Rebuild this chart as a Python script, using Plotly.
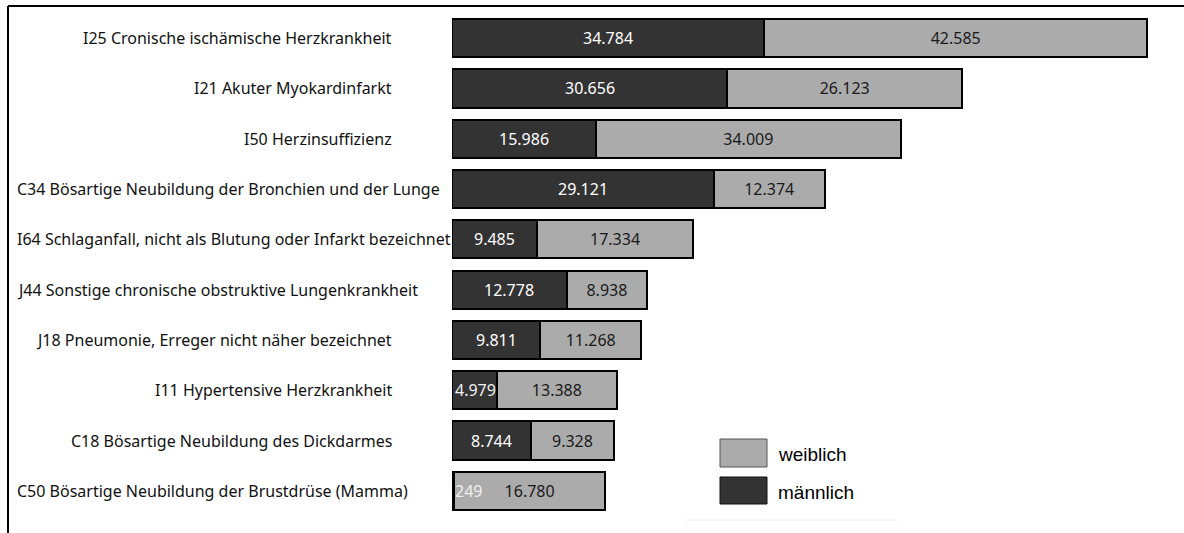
import plotly.graph_objects as go

categories = [
    "I25 Cronische ischämische Herzkrankheit",
    "I21 Akuter Myokardinfarkt",
    "I50 Herzinsuffizienz",
    "C34 Bösartige Neubildung der Bronchien und der Lunge",
    "I64 Schlaganfall, nicht als Blutung oder Infarkt bezeichnet",
    "J44 Sonstige chronische obstruktive Lungenkrankheit",
    "J18 Pneumonie, Erreger nicht näher bezeichnet",
    "I11 Hypertensive Herzkrankheit",
    "C18 Bösartige Neubildung des Dickdarmes",
    "C50 Bösartige Neubildung der Brustdrüse (Mamma)",
]
maennlich = [34784, 30656, 15986, 29121, 9485, 12778, 9811, 4979, 8744, 249]
weiblich = [42585, 26123, 34009, 12374, 17334, 8938, 11268, 13388, 9328, 16780]

def fmt(v):
    return f"{v:,}".replace(",", ".")

DARK = "#333333"
LIGHT = "#ababab"
LABEL_FONT = "Noto Sans"

fig = go.Figure()
fig.add_trace(go.Bar(
    y=categories, x=maennlich, orientation="h", name="männlich",
    marker=dict(color=DARK, line=dict(color="black", width=2)),
    showlegend=False, hoverinfo="x+y",
))
fig.add_trace(go.Bar(
    y=categories, x=weiblich, orientation="h", name="weiblich",
    marker=dict(color=LIGHT, line=dict(color="black", width=2)),
    text=[fmt(v) for v in weiblich], textposition="inside",
    insidetextanchor="middle", constraintext="none",
    textfont=dict(family=LABEL_FONT, size=16, color="#1a1a1a"),
    showlegend=False, hoverinfo="x+y",
))

L, T, B = 452, 13, 17
W, H = 1184, 533
pw = W - L
ph = H - T - B
px_per_unit = 695 / (34784 + 42585)
xmax = pw / px_per_unit

def px_x(px):
    return (px - L) / pw

def px_y(py):
    return 1 - (py - T) / ph

annotations = []
# category labels: right-aligned, long ones start at the left edge
for cat in categories:
    if len(cat) >= 47:
        annotations.append(dict(x=px_x(15), y=cat, xref="paper", yref="y", text=cat,
                                showarrow=False, xanchor="left",
                                font=dict(family=LABEL_FONT, size=16, color="#111111")))
    else:
        annotations.append(dict(x=px_x(394), y=cat, xref="paper", yref="y", text=cat,
                                showarrow=False, xanchor="right",
                                font=dict(family=LABEL_FONT, size=16, color="#111111")))

# male value labels
for cat, m in zip(categories, maennlich):
    if m >= 8000:
        annotations.append(dict(x=m / 2, y=cat, xref="x", yref="y", text=fmt(m),
                                showarrow=False, xanchor="center",
                                font=dict(family=LABEL_FONT, size=16, color="white")))
    else:
        annotations.append(dict(x=0, y=cat, xref="x", yref="y", text=fmt(m),
                                showarrow=False, xanchor="left", xshift=1,
                                font=dict(family=LABEL_FONT, size=16, color="#f0f0f0")))

shapes = [
    # frame lines
    dict(type="line", xref="paper", yref="paper", x0=px_x(8), x1=px_x(1184), y0=px_y(6), y1=px_y(6),
         line=dict(color="black", width=2)),
    dict(type="line", xref="paper", yref="paper", x0=px_x(8), x1=px_x(8), y0=px_y(6), y1=px_y(533),
         line=dict(color="black", width=2)),
    # legend boxes
    dict(type="rect", xref="paper", yref="paper", x0=px_x(720), x1=px_x(767), y0=px_y(439), y1=px_y(467),
         fillcolor=LIGHT, line=dict(color="#555555", width=1)),
    dict(type="rect", xref="paper", yref="paper", x0=px_x(720), x1=px_x(767), y0=px_y(477), y1=px_y(504),
         fillcolor=DARK, line=dict(color="#111111", width=1)),
    dict(type="line", xref="paper", yref="paper", x0=px_x(685), x1=px_x(897), y0=px_y(520), y1=px_y(520),
         line=dict(color="#eeeeee", width=1)),
]
annotations += [
    dict(xref="paper", yref="paper", x=px_x(776), y=px_y(454), text="weiblich", showarrow=False,
         xanchor="left", yanchor="middle", font=dict(family="Liberation Sans", size=19, color="black")),
    dict(xref="paper", yref="paper", x=px_x(776), y=px_y(492), text="männlich", showarrow=False,
         xanchor="left", yanchor="middle", font=dict(family="Liberation Sans", size=19, color="black")),
]

fig.update_layout(
    barmode="stack", bargap=0.24,
    width=W, height=H,
    margin=dict(l=L, r=0, t=T, b=B, pad=0),
    plot_bgcolor="white", paper_bgcolor="white",
    xaxis=dict(range=[0, xmax], visible=False, showgrid=False, zeroline=False),
    yaxis=dict(autorange="reversed", showgrid=False, zeroline=False, showline=False,
               ticks="", showticklabels=False),
    shapes=shapes, annotations=annotations,
)

fig.write_html("out.html", config={"displayModeBar": False},
               post_script="document.body.style.margin='0';document.body.style.overflow='hidden';")
